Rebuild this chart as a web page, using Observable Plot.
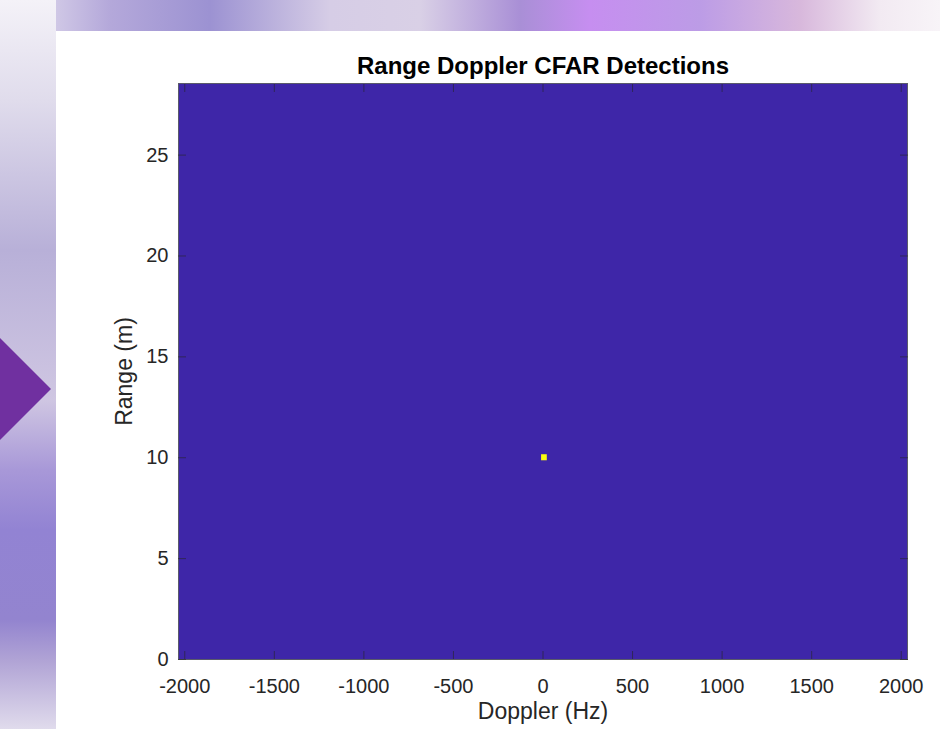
<!DOCTYPE html>
<html><head><meta charset="utf-8">
<script src="https://cdn.jsdelivr.net/npm/d3@7"></script>
<script src="https://cdn.jsdelivr.net/npm/@observablehq/plot@0.6"></script>
<style>
html,body{margin:0;padding:0;width:940px;height:729px;overflow:hidden;}
body{position:relative;background:#fff;font-family:"Liberation Sans",Arial,sans-serif;}
#top{position:absolute;left:0;top:0;width:940px;height:31px;background:linear-gradient(90deg,#ece8f2 0px,#b4a8da 110px,#9c92d2 210px,#d6cde6 330px,#d9d0e6 420px,#a98fd6 520px,#c68ef0 590px,#bc9ce6 700px,#d8b8dc 800px,#f2eaf2 880px,#f8f4f8 940px);}
#left{position:absolute;left:0;top:0;width:56px;height:729px;background:linear-gradient(180deg,#f4f2f8 0px,#e0dcec 100px,#b8b0d8 250px,#cfc6e2 400px,#a898d8 470px,#9283d3 530px,#9384cf 620px,#b0a3d5 660px,#e0dbec 729px);}
#tri{position:absolute;left:0;top:338px;width:51px;height:102px;background:#7030a0;clip-path:polygon(0 0,100% 50%,0 100%);}
#chart{position:absolute;left:0;top:0;}
</style></head><body>
<div id="top"></div><div id="left"></div><div id="tri"></div>
<div id="chart"></div>
<script>
const title = "Range Doppler CFAR Detections";
const xLabel = "Doppler (Hz)";
const yLabel = "Range (m)";
const dopplerLimits = [-2035, 2035];
const rangeLimits = [0, 28.55];
const xTicks = [-2000, -1500, -1000, -500, 0, 500, 1000, 1500, 2000];
const yTicks = [0, 5, 10, 15, 20, 25];
// detection map cells: whole map (no detection) and the detected cell
const cellDopplerStart = [-2035, -8];
const cellDopplerEnd = [2035, 24];
const cellRangeStart = [0, 9.85];
const cellRangeEnd = [28.55, 10.15];
const cellDetection = [0, 1];

const cells = cellDetection.map((v, i) => ({
  x1: cellDopplerStart[i], x2: cellDopplerEnd[i],
  y1: cellRangeStart[i], y2: cellRangeEnd[i], v
}));

const ink = "#262626";
const fmt = d => String(d);
const plot = Plot.plot({
  width: 940, height: 729,
  marginLeft: 178, marginRight: 33, marginTop: 83, marginBottom: 70,
  style: {background: "transparent", fontFamily: "'Liberation Sans', Arial, sans-serif", color: ink, overflow: "visible"},
  x: {domain: dopplerLimits, label: null},
  y: {domain: rangeLimits, label: null},
  color: {type: "linear", domain: [0, 1], range: ["#3e26a8", "#f9fb0e"]},
  marks: [
    Plot.rect(cells, {x1: "x1", x2: "x2", y1: "y1", y2: "y2", fill: "v"}),
    Plot.frame({stroke: "#5a5a6a", strokeWidth: 1}),
    Plot.axisX(xTicks, {anchor: "bottom", tickSize: -8, tickPadding: 27, tickFormat: fmt, fontSize: 20, label: null, stroke: ink, strokeOpacity: 0.6, fill: ink}),
    Plot.axisX(xTicks, {anchor: "top", tickSize: -8, tickFormat: () => "", label: null, stroke: ink, strokeOpacity: 0.6}),
    Plot.axisY(yTicks, {anchor: "left", tickSize: -8, tickPadding: 18, tickFormat: fmt, fontSize: 20, label: null, stroke: ink, strokeOpacity: 0.6, fill: ink}),
    Plot.axisY(yTicks, {anchor: "right", tickSize: -8, tickFormat: () => "", label: null, stroke: ink, strokeOpacity: 0.6}),
    Plot.text([title], {frameAnchor: "top", lineAnchor: "middle", textAnchor: "middle", dy: -17, fontSize: 24, fontWeight: "bold", fill: "#000"}),
    Plot.text([xLabel], {frameAnchor: "bottom", lineAnchor: "middle", textAnchor: "middle", dy: 52, fontSize: 23, fill: ink}),
    Plot.text([yLabel], {frameAnchor: "left", lineAnchor: "middle", textAnchor: "middle", dx: -54, rotate: -90, fontSize: 23, fill: ink})
  ]
});
document.getElementById("chart").appendChild(plot);
</script>
</body></html>
